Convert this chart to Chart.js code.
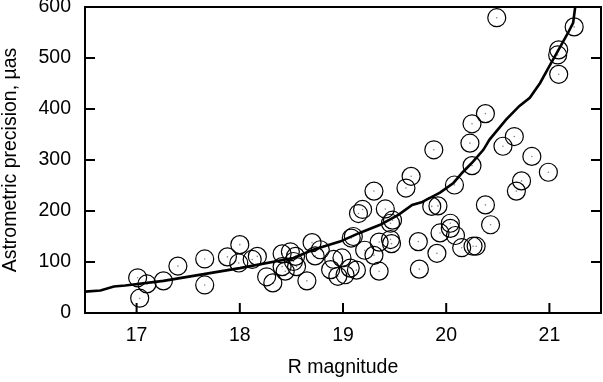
<!DOCTYPE html>
<html>
<head>
<meta charset="utf-8">
<script src="https://cdn.jsdelivr.net/npm/chart.js@4"></script>
<style>
  html, body { margin: 0; padding: 0; background: #fff; }
  #wrap { width: 603px; height: 382px; }
</style>
</head>
<body>
<div id="wrap"><canvas id="precisionChart"></canvas></div>
<script>
// Measured stars: R magnitude and astrometric precision (µas)
const magX = [
    17.01, 17.10, 17.03, 17.26, 17.40, 17.66, 17.66, 17.88, 18.00, 17.99,
    18.12, 18.17, 18.26, 18.32, 18.41, 18.41, 18.49, 18.52, 18.54, 18.55,
    18.44, 18.65, 18.70, 18.73, 18.78, 18.91, 18.88, 18.95, 18.99, 19.02,
    19.07, 19.13, 19.08, 19.10, 19.15, 19.19, 19.21, 19.30, 19.30, 19.35,
    19.35, 19.41, 19.46, 19.48, 19.46, 19.47, 19.61, 19.66, 19.73, 19.74,
    19.86, 19.92, 19.88, 19.91, 19.94, 20.04, 20.04, 20.09, 20.08, 20.15,
    20.26, 20.29, 20.23, 20.25, 20.25, 20.38, 20.38, 20.43, 20.49, 20.55,
    20.66, 20.68, 20.73, 20.83, 20.99, 21.09, 21.08, 21.09, 21.24
];
const precY = [
    69, 57, 29, 63, 92, 106, 55, 110, 134, 98,
    105, 111, 71, 59, 116, 91, 120, 101, 111, 91,
    82, 63, 138, 112, 124, 105, 85, 72, 108, 75,
    88, 84, 147, 150, 195, 203, 123, 113, 239, 139,
    82, 204, 176, 182, 144, 136, 245, 268, 140, 86,
    209, 210, 320, 117, 157, 176, 166, 152, 251, 128,
    131, 131, 333, 371, 289, 391, 212, 173, 579, 327,
    346, 239, 259, 307, 276, 516, 506, 468, 561
];

// Expected precision curve
const curveX = [
    16.50, 16.65, 16.78, 16.89, 17.26, 18.00, 18.52, 18.71, 18.97, 19.16,
    19.36, 19.54, 19.67, 19.76, 19.94, 20.07, 20.16, 20.26, 20.36, 20.42,
    20.58, 20.71, 20.81, 20.91, 21.00, 21.08, 21.18, 21.23, 21.25
];
const curveY = [
    42, 44, 52, 54, 63, 88, 108, 124, 140, 157,
    173, 193, 212, 217, 236, 255, 276, 297, 320, 340,
    379, 406, 422, 451, 484, 513, 549, 569, 600
];

const xTicks = [17, 18, 19, 20, 21];
const yTicks = [0, 100, 200, 300, 400, 500, 600];

const toPoints = (xs, ys) => xs.map((x, i) => ({ x, y: ys[i] }));

// Box frame with inward ticks, like the original plot
const frameTicks = {
    id: 'frameTicks',
    afterDatasetsDraw(chart) {
        const { ctx, chartArea: a, scales: { x, y } } = chart;
        ctx.save();
        ctx.strokeStyle = '#000';
        ctx.lineWidth = 2;
        ctx.strokeRect(a.left, a.top, a.right - a.left, a.bottom - a.top);
        ctx.beginPath();
        xTicks.forEach(v => {
            const px = x.getPixelForValue(v);
            ctx.moveTo(px, a.bottom);
            ctx.lineTo(px, a.bottom - 10);
        });
        yTicks.forEach(v => {
            const py = y.getPixelForValue(v);
            ctx.moveTo(a.left, py);
            ctx.lineTo(a.left + 10, py);
            ctx.moveTo(a.right, py);
            ctx.lineTo(a.right - 10, py);
        });
        ctx.stroke();
        ctx.restore();
    }
};

const font = { family: "'Liberation Sans', Arial, sans-serif", size: 19.5 };

new Chart(document.getElementById('precisionChart'), {
    type: 'scatter',
    data: {
        datasets: [
            {
                type: 'line',
                data: toPoints(curveX, curveY),
                borderColor: '#000',
                borderWidth: 2.6,
                pointRadius: 0,
                fill: false,
                tension: 0
            },
            {
                data: toPoints(magX, precY),
                pointStyle: 'circle',
                pointRadius: 9,
                borderColor: '#000',
                borderWidth: 1.2,
                backgroundColor: 'rgba(0,0,0,0)'
            },
            {
                data: toPoints(magX, precY),
                pointRadius: 0.8,
                borderWidth: 0,
                backgroundColor: '#888'
            }
        ]
    },
    options: {
        responsive: true,
        maintainAspectRatio: false,
        animation: false,
        events: [],
        layout: { autoPadding: false, padding: { top: 7, right: 2, left: 0, bottom: 0 } },
        plugins: {
            legend: { display: false },
            tooltip: { enabled: false }
        },
        scales: {
            x: {
                type: 'linear',
                min: 16.5,
                max: 21.5,
                afterBuildTicks: s => { s.ticks = xTicks.map(v => ({ value: v })); },
                afterFit: s => { s.height = 69; s.paddingLeft = 0; s.paddingRight = 0; },
                grid: { display: false, drawTicks: false },
                border: { display: false },
                ticks: { color: '#000', font, padding: 11, maxRotation: 0 },
                title: {
                    display: true,
                    text: 'R magnitude',
                    color: '#000',
                    font,
                    padding: { top: 4, bottom: 3 }
                }
            },
            y: {
                type: 'linear',
                min: 0,
                max: 600,
                afterBuildTicks: s => { s.ticks = yTicks.map(v => ({ value: v })); },
                afterFit: s => { s.width = 85; s.paddingTop = 0; s.paddingBottom = 0; },
                grid: { display: false, drawTicks: false },
                border: { display: false },
                ticks: { color: '#000', font, padding: 14 },
                title: {
                    display: true,
                    text: 'Astrometric precision, µas',
                    color: '#000',
                    font: { ...font, lineHeight: 1.05 },
                    padding: { top: 0, bottom: 0 }
                }
            }
        }
    },
    plugins: [frameTicks]
});
</script>
</body>
</html>
